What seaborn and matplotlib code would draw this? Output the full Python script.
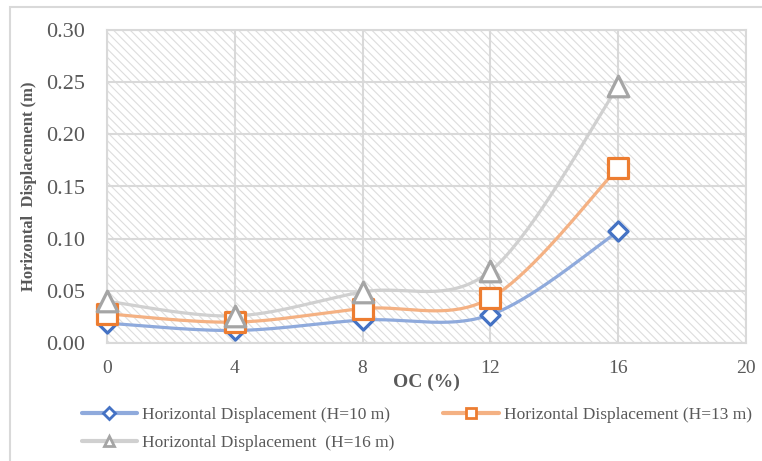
import numpy as np
import pandas as pd
import matplotlib
matplotlib.use("Agg")
import matplotlib.pyplot as plt
import seaborn as sns
from matplotlib.lines import Line2D
from matplotlib.patches import Rectangle

# ---- data ----
oc = [0, 4, 8, 12, 16]
h10 = [0.019, 0.012, 0.022, 0.027, 0.107]
h13 = [0.028, 0.020, 0.033, 0.043, 0.168]
h16 = [0.040, 0.026, 0.049, 0.069, 0.246]
labels = ["Horizontal Displacement (H=10 m)",
          "Horizontal Displacement (H=13 m)",
          "Horizontal Displacement  (H=16 m)"]
x_ticks = [0, 4, 8, 12, 16, 20]
y_ticks = [0.00, 0.05, 0.10, 0.15, 0.20, 0.25, 0.30]

sns.set_theme(style="white")
plt.rcParams["font.family"] = ["Liberation Serif", "DejaVu Serif"]
plt.rcParams["hatch.color"] = "#DDDDDD"
plt.rcParams["hatch.linewidth"] = 0.8

TXT = "#595959"
GRID = "#D9D9D9"

fig = plt.figure(figsize=(7.62, 4.61), dpi=100)
ax = fig.add_axes([107/762, 1-343/461, (746-107)/762, (343-30)/461])

# outer chart border (left/top visible)
fig.patches.append(Rectangle((10/762, -0.1), 1.2, 1 - 7/461 + 0.1, transform=fig.transFigure,
                             fill=False, edgecolor="#D9D9D9", linewidth=1.5, zorder=0))

# hatched plot area
ax.add_patch(Rectangle((0, 0), 1, 1, transform=ax.transAxes, facecolor="white",
                       edgecolor="#DDDDDD", hatch="\\\\\\\\", linewidth=0, zorder=0))


def smooth(xs, ys, n=40):
    xs = np.asarray(xs, float); ys = np.asarray(ys, float)
    P = np.column_stack([xs, ys])
    Pe = np.vstack([P[0], P, P[-1]])
    out = []
    for i in range(len(P) - 1):
        p0, p1, p2, p3 = Pe[i], Pe[i+1], Pe[i+2], Pe[i+3]
        c1 = p1 + (p2 - p0) / 6
        c2 = p2 - (p3 - p1) / 6
        t = np.linspace(0, 1, n)[:, None]
        seg = ((1-t)**3)*p1 + 3*((1-t)**2)*t*c1 + 3*(1-t)*t**2*c2 + t**3*p2
        out.append(seg if i == 0 else seg[1:])
    s = np.vstack(out)
    return s[:, 0], s[:, 1]


series = [
    (h10, "#8FAADC", "#4472C4", "D", 95),
    (h13, "#F4B183", "#ED7D31", "s", 200),
    (h16, "#D0D0D0", "#A5A5A5", "^", 220),
]
for (vals, lc, mc, mk, ms), lab in zip(series, labels):
    sx, sy = smooth(oc, vals)
    ax.plot(sx, sy, color=lc, lw=2.3, zorder=3, solid_capstyle="round", clip_on=False)
    d = pd.DataFrame({"OC": oc, "val": vals})
    sns.scatterplot(data=d, x="OC", y="val", marker=mk, s=ms, facecolor="white",
                    edgecolor=mc, linewidth=2.3, ax=ax, zorder=4, legend=False, clip_on=False)

ax.set_xlim(0, 20)
ax.set_ylim(0, 0.30)
ax.set_xticks(x_ticks)
ax.set_yticks(y_ticks)
ax.set_xticklabels([str(t) for t in x_ticks], fontsize=14, color=TXT)
ax.set_yticklabels([f"{t:.2f}" for t in y_ticks], fontsize=16, color=TXT)
ax.tick_params(axis="x", length=0, pad=12)
ax.tick_params(axis="y", length=0, pad=16)
ax.grid(True, color=GRID, lw=1.5, zorder=1)
ax.set_axisbelow(True)
for sp in ax.spines.values():
    sp.set_color(GRID)
    sp.set_linewidth(1.5)

ax.set_xlabel("OC (%)", fontsize=14, fontweight="bold", color=TXT, labelpad=-2)
ax.set_ylabel("Horizontal  Displacement (m)", fontsize=12, fontweight="bold", color=TXT, labelpad=6)

handles = []
for (vals, lc, mc, mk, ms) in series:
    handles.append(Line2D([0], [0], color=lc, lw=3, marker=mk, markersize=7 if mk != "D" else 6,
                          markerfacecolor="white", markeredgecolor=mc, markeredgewidth=2))
order = [0, 2, 1]
leg = fig.legend([handles[i] for i in order], [labels[i] for i in order], ncol=2,
                 loc="upper left", bbox_to_anchor=(66/762, 1-391/461), frameon=False,
                 fontsize=12.5, handlelength=3.2, columnspacing=2.8, labelspacing=0.7,
                 handletextpad=0.3)
for t in leg.get_texts():
    t.set_color(TXT)

fig.savefig("out.png", dpi=100)
